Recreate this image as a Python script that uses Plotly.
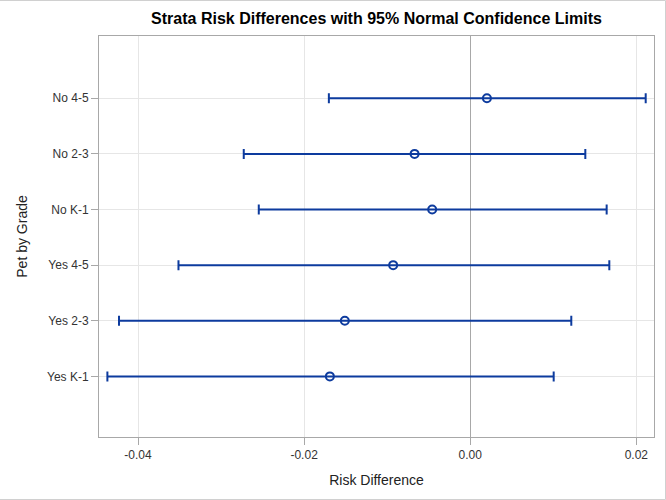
import plotly.graph_objects as go

categories = ["Yes K-1", "Yes 2-3", "Yes 4-5", "No K-1", "No 2-3", "No 4-5"]
risk_diff = [-0.0169, -0.0151, -0.00928, -0.00458, -0.0067, 0.00201]
lower_cl = [-0.04369, -0.04229, -0.03513, -0.02546, -0.02727, -0.01702]
upper_cl = [0.01005, 0.01217, 0.01675, 0.01643, 0.01386, 0.02113]
x_ticks = [-0.04, -0.02, 0.00, 0.02]
x_tick_text = ["-0.04", "-0.02", "0.00", "0.02"]

blue = "#0d3b9e"
font_family = "Liberation Sans, Arial, sans-serif"

plus = [u - c for u, c in zip(upper_cl, risk_diff)]
minus = [c - l for c, l in zip(risk_diff, lower_cl)]

fig = go.Figure()
fig.add_trace(go.Scatter(
    x=risk_diff,
    y=categories,
    mode="markers",
    marker=dict(symbol="circle-open", size=8, color=blue, line=dict(width=2, color=blue)),
    error_x=dict(type="data", symmetric=False, array=plus, arrayminus=minus,
                 color=blue, thickness=2, width=5),
    showlegend=False,
    hoverinfo="skip",
))

fig.update_layout(
    width=666, height=500,
    margin=dict(l=99, r=12, t=36, b=63),
    paper_bgcolor="white", plot_bgcolor="white",
    font=dict(family=font_family, size=12, color="#333333"),
    title=dict(text="<b>Strata Risk Differences with 95% Normal Confidence Limits</b>",
               x=(99 + 654) / 2 / 666, xanchor="center", y=1 - 18 / 500, yanchor="middle",
               font=dict(size=16, color="black", family=font_family)),
    xaxis=dict(
        range=[-0.0447, 0.02213],
        tickvals=x_ticks, ticktext=x_tick_text,
        showgrid=True, gridcolor="#e6e6e6", gridwidth=1,
        zeroline=True, zerolinecolor="#a8a8a8", zerolinewidth=1,
        showline=True, linecolor="#a8a8a8", linewidth=1, mirror=True,
        ticks="outside", ticklen=7, tickcolor="#a8a8a8",
        tickfont=dict(size=12, color="#333333"),
        title=dict(text="Risk Difference", font=dict(size=14, color="#222222"), standoff=13),
        automargin=False,
    ),
    yaxis=dict(
        type="category",
        categoryorder="array", categoryarray=categories,
        range=[-1.09, 6.12],
        showgrid=True, gridcolor="#e6e6e6", gridwidth=1,
        showline=True, linecolor="#a8a8a8", linewidth=1, mirror=True,
        ticks="outside", ticklen=7, tickcolor="#a8a8a8",
        tickfont=dict(size=12, color="#333333"),
        title=dict(text="Pet by Grade", font=dict(size=14, color="#222222"), standoff=16),
        automargin=False,
    ),
)

# outer light border of the image
fig.add_shape(type="rect", xref="paper", yref="paper",
              x0=-99.5 / 555, x1=(665.5 - 99) / 555, y0=-62.5 / 401, y1=1 + 35.5 / 401,
              line=dict(color="#d0d0d0", width=1), fillcolor="rgba(0,0,0,0)", layer="below")

fig.write_html("out.html", config={"displayModeBar": False},
               post_script="document.body.style.margin='0';document.body.style.overflow='hidden';")
